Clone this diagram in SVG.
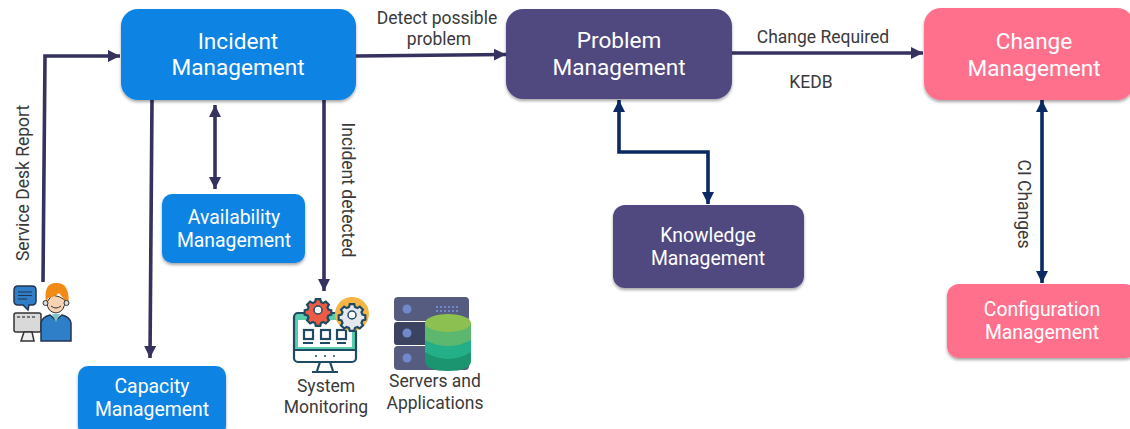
<svg xmlns="http://www.w3.org/2000/svg" width="1130" height="429" viewBox="0 0 1130 429">
<style>
text{font-family:Roboto,"Liberation Sans",sans-serif;text-anchor:middle}
.w{fill:#fff}
.l{font-size:22.6px}
.m{font-size:19.4px}
.d{fill:#3a3a3a;font-size:17.5px}
.c{fill:none;stroke-width:3.6}
.a{stroke:#35325f}
.b{stroke:#0b2a63}
.blue{fill:#0a84e4}
.pur{fill:#4f4880}
.pink{fill:#ff708c}
.box{filter:url(#s)}
.ic{stroke:#1f4a63;stroke-width:2.2;fill:none}
</style>
<defs>
<filter id="s" x="-10%" y="-10%" width="120%" height="125%"><feDropShadow dx="0" dy="2" stdDeviation="1.5" flood-color="#000" flood-opacity=".35"/></filter>
<marker id="ma" markerUnits="userSpaceOnUse" markerWidth="14" markerHeight="12" refX="12" refY="6" orient="auto-start-reverse"><path d="M0 0L12 6L0 12z" fill="#35325f"/></marker>
<marker id="mb" markerUnits="userSpaceOnUse" markerWidth="14" markerHeight="12" refX="12" refY="6" orient="auto-start-reverse"><path d="M0 0L12 6L0 12z" fill="#0b2a63"/></marker>
<path id="gear" d="M-2.500-12h5l.8 3.200 2.600 1.100 2.800-1.700 3.500 3.500-1.700 2.800 1.100 2.600 3.200.8v5l-3.200.8-1.100 2.600 1.700 2.800-3.500 3.500-2.800-1.700-2.600 1.100-.8 3.200h-5l-.8-3.200-2.600-1.100-2.800 1.700-3.500-3.500 1.700-2.800-1.100-2.600-3.200-.8v-5l3.200-.8 1.100-2.600-1.700-2.800 3.500-3.500 2.800 1.700 2.600-1.100z"/>
</defs>
<g id="connectors">
<path class="c a" marker-end="url(#ma)" d="M43 282L45 56L120 56"/>
<path class="c a" marker-end="url(#ma)" d="M356 56L506 54.500"/>
<path class="c a" marker-end="url(#ma)" d="M732 53L923 53"/>
<path class="c a" marker-end="url(#ma)" d="M152 100L150 358"/>
<path class="c a" marker-start="url(#ma)" marker-end="url(#ma)" d="M215 105L215 189"/>
<path class="c a" marker-end="url(#ma)" d="M324 100L324 291"/>
<path class="c b" marker-start="url(#mb)" marker-end="url(#mb)" d="M619 100L619 152L708 152L708 204"/>
<path class="c b" marker-start="url(#mb)" marker-end="url(#mb)" d="M1042 100L1042 283"/>
</g>
<g id="incident"><rect class="blue box" x="121" y="9" width="235" height="91" rx="17"/><text class="w l" x="238" y="49">Incident</text><text class="w l" x="238" y="75">Management</text></g>
<g id="problem"><rect class="pur box" x="506" y="9" width="226" height="90" rx="17"/><text class="w l" x="619" y="48">Problem</text><text class="w l" x="619" y="75">Management</text></g>
<g id="change"><rect class="pink box" x="924" y="8" width="210" height="92" rx="17"/><text class="w l" x="1034" y="49">Change</text><text class="w l" x="1034" y="76">Management</text></g>
<g id="availability"><rect class="blue box" x="162" y="194" width="143" height="69" rx="10"/><text class="w m" x="234" y="224">Availability</text><text class="w m" x="234" y="247">Management</text></g>
<g id="capacity"><rect class="blue box" x="78" y="366" width="148" height="70" rx="10"/><text class="w m" x="152" y="393">Capacity</text><text class="w m" x="152" y="416">Management</text></g>
<g id="knowledge"><rect class="pur box" x="613" y="205" width="191" height="83" rx="12"/><text class="w m" x="708" y="242">Knowledge</text><text class="w m" x="708" y="265">Management</text></g>
<g id="configuration"><rect class="pink box" x="947" y="284" width="190" height="74" rx="12"/><text class="w m" x="1042" y="316">Configuration</text><text class="w m" x="1042" y="339">Management</text></g>
<g id="labels">
<text class="d" x="437" y="24">Detect possible</text><text class="d" x="439" y="45">problem</text>
<text class="d" x="823" y="43">Change Required</text><text class="d" x="811" y="88">KEDB</text>
<text class="d" transform="translate(29 183) rotate(-90)">Service Desk Report</text>
<text class="d" transform="translate(342 190) rotate(90)">Incident detected</text>
<text class="d" transform="translate(1018 204) rotate(90)">CI Changes</text>
</g>
<g id="agent">
<path d="M18 286h14q4 0 4 4v11q0 4-4 4h-3l-1 5-5-5h-5q-4 0-4-4v-11q0-4 4-4z" fill="#2f7fc8" stroke="#24344f" stroke-width="1.500"/>
<path d="M18 292h14M18 295.500h14M18 299h9" stroke="#24344f" stroke-width="1.200"/>
<rect x="14" y="313" width="27" height="19" rx="2" fill="#d9d9d9" stroke="#333" stroke-width="1.500"/><path d="M17 317h19" stroke="#555" stroke-width="1.500" stroke-dasharray="3 2"/><path d="M24 332H32L34 341H21z" fill="#eee" stroke="#333" stroke-width="1.500"/>
<path d="M41 341V323Q42 317 50 315L56 320L62 315Q70 317 71 323V341z" fill="#2f7fc8" stroke="#24344f" stroke-width="1.500"/>
<path d="M52 314L56 322L60 314z" fill="#7cc6c4"/>
<path d="M47 302Q47 312 56 313Q65 312 65 300Q60 296 52 295z" fill="#f6d3b3" stroke="#333" stroke-width="1"/>
<path d="M46 303Q43 283 56 283Q64 283 66 288Q70 295 68 305L65 300Q61 296 59 293Q55 297 48 298z" fill="#f28a16"/>
<path d="M51 306Q56 310 61 306" stroke="#333" fill="none"/>
<circle cx="45.500" cy="303" r="2.500" fill="#ddd" stroke="#333"/><circle cx="66.500" cy="303" r="2.500" fill="#ddd" stroke="#333"/>
</g>
<g id="system-monitoring">
<path d="M294 350V317Q294 313 298 313H352Q356 313 356 317V350z" fill="#3cc69d" opacity=".85"/>
<rect x="298" y="320" width="54" height="27" fill="#fff"/>
<rect x="294" y="313" width="62" height="49" rx="4" class="ic"/>
<path d="M294 350h62" class="ic"/>
<path d="M320 362L317 371M330 362L333 371M312 372H338" class="ic"/>
<circle cx="316" cy="356" r="1" fill="#1f4a63"/><circle cx="325" cy="356" r="1" fill="#1f4a63"/><circle cx="334" cy="356" r="1" fill="#1f4a63"/>
<rect x="304" y="330" width="9" height="9" class="ic"/><rect x="321" y="330" width="9" height="9" class="ic"/><rect x="337" y="330" width="9" height="9" class="ic"/>
<path d="M303 343h10M320 343h10M337 343h9" class="ic"/>
<circle cx="352" cy="314" r="17" fill="#f6b544"/>
<use href="#gear" transform="translate(318 310) scale(.9)" fill="#ee5b44" stroke="#1f4a63" stroke-width="2.400"/><circle cx="318" cy="310" r="4" fill="#fff" stroke="#1f4a63" stroke-width="1.500"/>
<use href="#gear" transform="translate(352 315) scale(.9)" fill="#e4e7ec" stroke="#1f4a63" stroke-width="2.400"/><circle cx="352" cy="315" r="4" fill="#fff" stroke="#1f4a63" stroke-width="1.500"/>
<text class="d" x="326" y="392">System</text><text class="d" x="326" y="413">Monitoring</text>
</g>
<g id="servers">
<rect x="394" y="297" width="75" height="24" rx="4" fill="#555c80"/><rect x="394" y="322" width="75" height="23" rx="3" fill="#3c4360"/><rect x="394" y="346" width="75" height="24" rx="4" fill="#555c80"/>
<circle cx="407" cy="309" r="4.500" fill="#7288cc"/><circle cx="407" cy="333" r="4.500" fill="#7288cc"/><circle cx="407" cy="358" r="4.500" fill="#7288cc"/>
<path d="M436 307h22M436 311h22" stroke="#7288cc" stroke-width="2" stroke-dasharray="2 2"/>
<path d="M425 323V361Q425 371 448 371Q471 371 471 361V323z" fill="#1b9470"/>
<path d="M425 323V352Q448 366 471 352V323z" fill="#23b088"/><path d="M425 323V340Q448 352 471 340V323z" fill="#5db86f"/>
<ellipse cx="448" cy="323" rx="23" ry="9" fill="#8cc152"/>
<text class="d" x="435" y="387">Servers and</text><text class="d" x="435" y="409">Applications</text>
</g>
</svg>
